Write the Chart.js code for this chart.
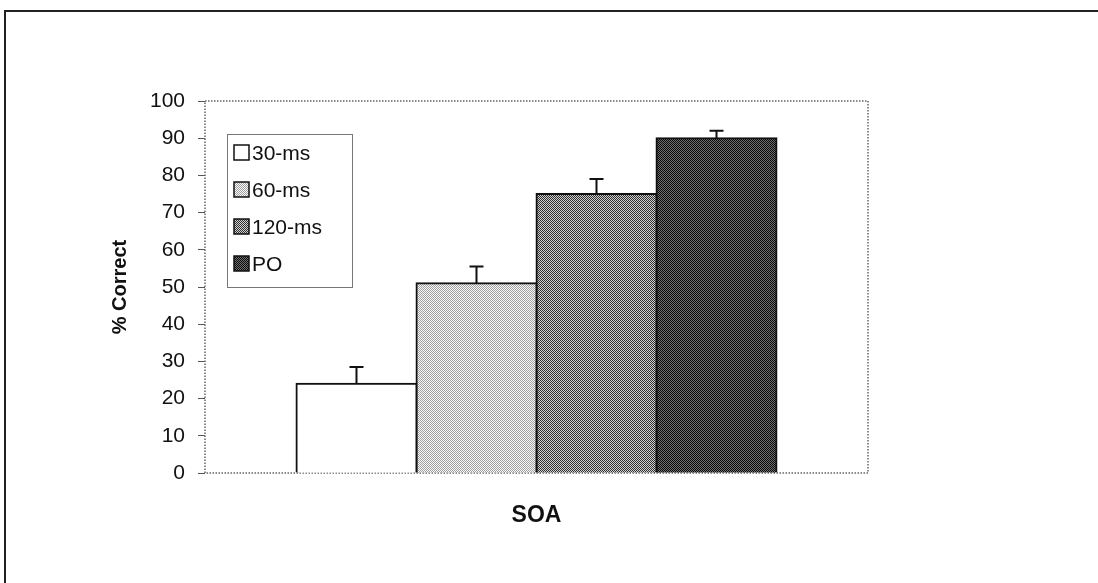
<!DOCTYPE html>
<html>
<head>
<meta charset="utf-8">
<script src="https://cdn.jsdelivr.net/npm/chart.js@4/dist/chart.umd.min.js"></script>
<style>
  html, body { margin: 0; padding: 0; background: #fff; overflow: hidden; }
  #wrap { position: relative; width: 1098px; height: 583px; }
  #frame { position: absolute; left: 4px; top: 10px; width: 1110px; height: 580px; border: 2px solid #222; box-sizing: border-box; pointer-events: none; }
</style>
</head>
<body>
<div id="wrap">
  <canvas id="chart" width="1098" height="583"></canvas>
  <div id="frame"></div>
</div>
<script>
// data
const categories = [""]
const seriesNames = ["30-ms", "60-ms", "120-ms", "PO"]
const values = [24, 51, 75, 90]
const errors = [4.5, 4.5, 4, 2]
const yTicks = [0, 10, 20, 30, 40, 50, 60, 70, 80, 90, 100]

const FONT = "'Liberation Sans', Arial, sans-serif"

function makePattern(fg, bg) {
    const c = document.createElement("canvas")
    c.width = 2
    c.height = 2
    const g = c.getContext("2d")
    g.fillStyle = bg
    g.fillRect(0, 0, 2, 2)
    g.fillStyle = fg
    g.fillRect(0, 0, 1, 1)
    g.fillRect(1, 1, 1, 1)
    return g.createPattern(c, "repeat")
}

const fills = [
    "#ffffff",
    makePattern("#a0a0a0", "#f8f8f8"),
    makePattern("#303030", "#d0d0d0"),
    makePattern("#0a0a0a", "#707070")
]

const datasets = seriesNames.map((name, i) => ({
    label: name,
    data: [values[i]],
    backgroundColor: fills[i],
    borderColor: "#111",
    borderWidth: 2,
    borderSkipped: "bottom",
    inflateAmount: 1,
    errorBar: errors[i]
}))

// dotted plot frame, error bars, legend inside plot
const extras = {
    id: "extras",
    beforeDatasetsDraw(chart) {
        const ctx = chart.ctx
        const a = chart.chartArea
        ctx.save()
        ctx.strokeStyle = "#666"
        ctx.lineWidth = 1.5
        ctx.setLineDash([1.5, 1.5])
        ctx.strokeRect(a.left, a.top, a.right - a.left, a.bottom - a.top)
        ctx.restore()
    },
    afterDatasetsDraw(chart) {
        const ctx = chart.ctx
        const y = chart.scales.y
        const a = chart.chartArea
        ctx.save()
        ctx.strokeStyle = "#111"
        ctx.lineWidth = 2
        chart.data.datasets.forEach((ds, i) => {
            const bar = chart.getDatasetMeta(i).data[0]
            const y0 = y.getPixelForValue(ds.data[0])
            const y1 = y.getPixelForValue(ds.data[0] + ds.errorBar)
            ctx.beginPath()
            ctx.moveTo(bar.x, y0)
            ctx.lineTo(bar.x, y1)
            ctx.moveTo(bar.x - 7, y1)
            ctx.lineTo(bar.x + 7, y1)
            ctx.stroke()
        })

        // legend
        const lx = a.left + 22, ly = a.top + 33
        ctx.fillStyle = "#fff"
        ctx.fillRect(lx, ly, 125, 153)
        ctx.strokeStyle = "#777"
        ctx.lineWidth = 1
        ctx.strokeRect(lx + 0.5, ly + 0.5, 125, 153)
        ctx.font = "21px " + FONT
        ctx.textBaseline = "middle"
        chart.data.datasets.forEach((ds, i) => {
            const cy = ly + 19 + i * 37
            ctx.fillStyle = ds.backgroundColor
            ctx.fillRect(lx + 7, cy - 8, 15, 15)
            ctx.strokeStyle = "#111"
            ctx.lineWidth = 1.5
            ctx.strokeRect(lx + 7, cy - 8, 15, 15)
            ctx.fillStyle = "#111"
            ctx.fillText(ds.label, lx + 25, cy + 1)
        })
        ctx.restore()
    }
}

const ctx = document.getElementById("chart").getContext("2d")

new Chart(ctx, {
    type: "bar",
    data: {
        labels: categories,
        datasets: datasets
    },
    options: {
        responsive: false,
        animation: false,
        layout: {
            padding: { left: 104, right: 230, top: 101, bottom: 50 }
        },
        datasets: {
            bar: {
                categoryPercentage: 0.724,
                barPercentage: 1
            }
        },
        plugins: {
            legend: { display: false },
            tooltip: { enabled: false }
        },
        scales: {
            x: {
                afterFit: s => { s.height = 60 },
                grid: { display: false },
                border: { display: false },
                ticks: { display: false },
                title: {
                    display: true,
                    text: "SOA",
                    color: "#111",
                    font: { family: FONT, size: 23, weight: "bold" }
                }
            },
            y: {
                min: 0,
                max: 100,
                afterFit: s => { s.width = 101 },
                afterBuildTicks: s => { s.ticks = yTicks.map(v => ({ value: v })) },
                grid: { drawOnChartArea: false, drawTicks: true, tickLength: 7, color: "#555" },
                border: { display: false },
                ticks: {
                    padding: 13,
                    color: "#111",
                    font: { family: FONT, size: 21 }
                },
                title: {
                    display: true,
                    text: "% Correct",
                    color: "#111",
                    font: { family: FONT, size: 20, weight: "bold" }
                }
            }
        }
    },
    plugins: [extras]
})
</script>
</body>
</html>
